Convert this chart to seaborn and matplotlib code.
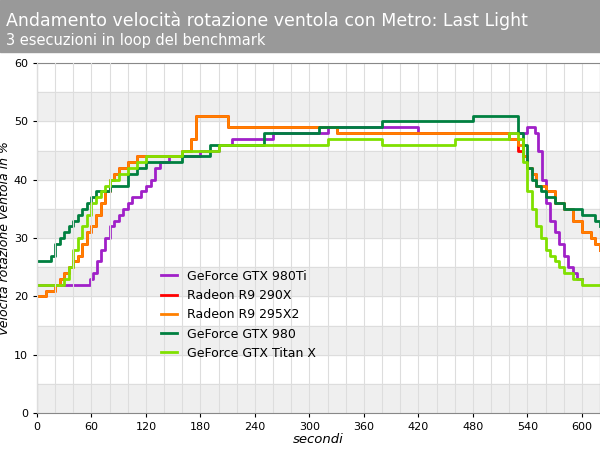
import matplotlib
matplotlib.use("Agg")
import matplotlib.pyplot as plt
import seaborn as sns
import pandas as pd

series_names = ["GeForce GTX 980Ti", "Radeon R9 290X", "Radeon R9 295X2", "GeForce GTX 980", "GeForce GTX Titan X"]
colors = ["#a020c8", "#ff0000", "#ff8000", "#008040", "#80e000"]

t_980ti = [0, 58, 62, 66, 70, 75, 80, 85, 90, 95, 100, 105, 110, 115, 120, 125, 130, 135, 140, 145, 150, 180, 200, 215, 260, 320, 420, 540, 548, 552, 556, 560, 565, 570, 575, 580, 585, 590, 595, 600]
v_980ti = [22, 23, 24, 26, 28, 30, 32, 33, 34, 35, 36, 37, 37, 38, 39, 40, 42, 43, 43, 44, 44, 45, 46, 47, 48, 49, 48, 49, 48, 45, 40, 36, 33, 31, 29, 27, 25, 24, 23, 23]
t_290x = [0, 10, 20, 25, 30, 35, 40, 45, 50, 55, 60, 65, 70, 75, 80, 85, 90, 95, 100, 110, 120, 160, 170, 175, 180, 210, 330, 500, 520, 530, 535, 540, 545, 550, 560, 570, 580, 590, 600, 610, 615, 620]
v_290x = [20, 21, 22, 23, 24, 25, 26, 27, 29, 31, 32, 34, 36, 38, 40, 41, 42, 42, 43, 44, 44, 45, 47, 51, 51, 49, 48, 48, 47, 45, 44, 42, 41, 39, 38, 36, 35, 33, 31, 30, 29, 28]
t_295x2 = [0, 10, 20, 25, 30, 35, 40, 45, 50, 55, 60, 65, 70, 75, 80, 85, 90, 95, 100, 110, 120, 160, 170, 175, 180, 210, 330, 500, 520, 530, 535, 540, 545, 550, 560, 570, 580, 590, 600, 610, 615, 620]
v_295x2 = [20, 21, 22, 23, 24, 25, 26, 27, 29, 31, 32, 34, 36, 38, 40, 41, 42, 42, 43, 44, 44, 45, 47, 51, 51, 49, 48, 48, 47, 46, 44, 42, 41, 39, 38, 36, 35, 33, 31, 30, 29, 28]
t_980 = [0, 15, 20, 25, 30, 35, 40, 45, 50, 55, 60, 65, 80, 100, 110, 120, 160, 170, 190, 250, 310, 380, 480, 530, 535, 540, 545, 550, 555, 560, 570, 580, 600, 615, 620]
v_980 = [26, 27, 29, 30, 31, 32, 33, 34, 35, 36, 37, 38, 39, 41, 42, 43, 44, 44, 46, 48, 49, 50, 51, 48, 46, 42, 40, 39, 38, 37, 36, 35, 34, 33, 32]
t_titan = [0, 30, 35, 40, 45, 50, 55, 60, 65, 70, 75, 80, 90, 100, 110, 120, 160, 200, 215, 320, 380, 460, 520, 530, 535, 540, 545, 550, 555, 560, 565, 570, 575, 580, 590, 600, 620]
v_titan = [22, 23, 25, 28, 30, 32, 34, 36, 37, 38, 39, 40, 41, 42, 43, 44, 45, 46, 46, 47, 46, 47, 48, 47, 43, 38, 35, 32, 30, 28, 27, 26, 25, 24, 23, 22, 22]

data = [(t_980ti, v_980ti), (t_290x, v_290x), (t_295x2, v_295x2), (t_980, v_980), (t_titan, v_titan)]
frames = []
for name, (t, v) in zip(series_names, data):
    frames.append(pd.DataFrame({"t": t, "v": v, "s": name}))
df = pd.concat(frames)

fig = plt.figure(figsize=(6, 4.5), dpi=100)
fig.patch.set_facecolor("white")
fig.add_artist(plt.Rectangle((0, 1 - 52 / 450), 1, 52 / 450, transform=fig.transFigure, color="#999999", zorder=0))
fig.text(0.01, 0.955, "Andamento velocità rotazione ventola con Metro: Last Light", color="white", fontsize=12.5, va="center")
fig.text(0.01, 0.91, "3 esecuzioni in loop del benchmark", color="white", fontsize=10.5, va="center")

ax = fig.add_axes([37 / 600, 1 - 413 / 450, 563 / 600, 350 / 450])
for y0 in range(0, 60, 10):
    ax.axhspan(y0, y0 + 5, color="#efefef", zorder=0)
for x in range(0, 640, 20):
    ax.axvline(x, color="#dddddd", lw=0.8, zorder=0)
for y in range(0, 61, 5):
    ax.axhline(y, color="#dddddd", lw=0.8, zorder=0)

sns.lineplot(data=df, x="t", y="v", hue="s", palette=colors, hue_order=series_names,
             drawstyle="steps-post", lw=2, ax=ax, sort=False, estimator=None)
zorders = [5, 4, 3, 6, 7]
for line, z in zip(ax.get_lines()[:5], zorders):
    line.set_zorder(z)
ax.set_xlim(0, 620)
ax.set_ylim(0, 60)
ax.set_xticks(range(0, 601, 60))
ax.set_yticks(range(0, 61, 10))
ax.tick_params(labelsize=8, length=3)
ax.set_xlabel("secondi", style="italic", fontsize=9.5, labelpad=1)
ax.set_ylabel("Velocità rotazione ventola in %", style="italic", fontsize=9, labelpad=2)
for s in ax.spines.values():
    s.set_color("#888888")
leg = ax.legend(loc="lower left", bbox_to_anchor=(0.2, 0.12), frameon=False, fontsize=9, handlelength=1.3)
fig.savefig("out.png", dpi=100)
